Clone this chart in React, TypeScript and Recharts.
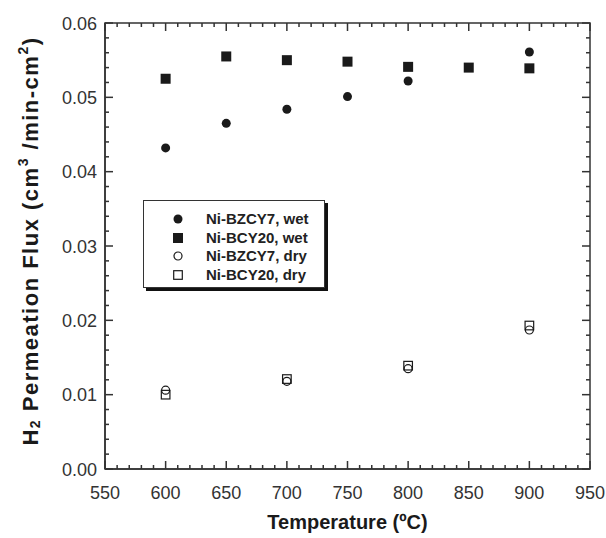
import { ScatterChart, Scatter, XAxis, YAxis, ReferenceArea } from "recharts";

// temperatures (°C) and H2 flux (cm3/min-cm2)
const bzcy7WetTemps = [600, 650, 700, 750, 800, 900];
const bzcy7WetFlux = [0.0432, 0.0465, 0.0484, 0.0501, 0.0522, 0.0561];
const bcy20WetTemps = [600, 650, 700, 750, 800, 850, 900];
const bcy20WetFlux = [0.0525, 0.0555, 0.055, 0.0548, 0.0541, 0.054, 0.0539];
const dryTemps = [600, 700, 800, 900];
const bzcy7DryFlux = [0.0106, 0.0118, 0.0135, 0.0187];
const bcy20DryFlux = [0.01, 0.0121, 0.0139, 0.0193];

const seriesNames = ["Ni-BZCY7, wet", "Ni-BCY20, wet", "Ni-BZCY7, dry", "Ni-BCY20, dry"];
const markerKinds = ["circle", "square", "openCircle", "openSquare"];

const xMajorTicks = [550, 600, 650, 700, 750, 800, 850, 900, 950];
const yMajorTicks = [0, 0.01, 0.02, 0.03, 0.04, 0.05, 0.06];

const FONT = '"Liberation Sans", Arial, Helvetica, sans-serif';
const INK = "#1a1a1a";
const FRAME = "#333";
const X_MIN = 550;
const X_MAX = 950;
const Y_MIN = 0;
const Y_MAX = 0.06;

const zip = (xs: number[], ys: number[]) => xs.map((t, i) => ({ t, flux: ys[i] }));

const seriesData = [
  zip(bzcy7WetTemps, bzcy7WetFlux),
  zip(bcy20WetTemps, bcy20WetFlux),
  zip(dryTemps, bzcy7DryFlux),
  zip(dryTemps, bcy20DryFlux),
];

// minor ticks between each pair of major ticks
const withMinor = (majors: number[], parts: number) => {
  const out: number[] = [];
  majors.forEach((m, i) => {
    out.push(m);
    if (i < majors.length - 1) {
      const step = (majors[i + 1] - m) / parts;
      for (let k = 1; k < parts; k++) out.push(Number((m + k * step).toFixed(5)));
    }
  });
  return out;
};
const xTicks = withMinor(xMajorTicks, 5);
const yTicks = withMinor(yMajorTicks, 5);
const isXMajor = (v: number) => xMajorTicks.includes(v);
const isYMajor = (v: number) => yMajorTicks.some((m) => Math.abs(m - v) < 1e-7);

// tick-mark points sitting on the four edges of the plot box
const bottomTickPts = xTicks.map((t) => ({ t, flux: Y_MIN }));
const topTickPts = xTicks.map((t) => ({ t, flux: Y_MAX }));
const leftTickPts = yTicks.map((flux) => ({ t: X_MIN, flux }));
const rightTickPts = yTicks.map((flux) => ({ t: X_MAX, flux }));

function Marker({ cx, cy, kind }: { cx: number; cy: number; kind: string }) {
  if (kind === "circle") return <circle cx={cx} cy={cy} r={4.5} fill={INK} />;
  if (kind === "square") return <rect x={cx - 5} y={cy - 5} width={10} height={10} fill={INK} />;
  if (kind === "openCircle")
    return <circle cx={cx} cy={cy} r={4} fill="none" stroke={INK} strokeWidth={1.2} />;
  return (
    <rect x={cx - 4.3} y={cy - 4.3} width={8.6} height={8.6} fill="none" stroke={INK} strokeWidth={1.2} />
  );
}

const TW = 1.5;
const tickShape = (side: string) => (p: any) => {
  const cx = Number(p.cx);
  const cy = Number(p.cy);
  if (side === "bottom" || side === "top") {
    const len = isXMajor(p.payload?.t ?? p.t) ? 8 : 4;
    const y = side === "bottom" ? cy - len : cy;
    return <rect x={cx - TW / 2} y={y} width={TW} height={len} fill={FRAME} />;
  }
  const len = isYMajor(p.payload?.flux ?? p.flux) ? 8 : 4;
  const x = side === "left" ? cx : cx - len;
  return <rect x={x} y={cy - TW / 2} width={len} height={TW} fill={FRAME} />;
};

const BottomLabel = ({ x, y, payload }: any) => (
  <text x={x} y={Number(y) + 30} textAnchor="middle" fontSize={18} fontFamily={FONT} fill="#333">
    {payload.value}
  </text>
);

const LeftLabel = ({ x, y, payload }: any) => (
  <text x={Number(x) - 8} y={Number(y) + 6.5} textAnchor="end" fontSize={18} fontFamily={FONT} fill="#333">
    {Number(payload.value).toFixed(2)}
  </text>
);

const XTitle = ({ viewBox }: any) => (
  <text
    x={viewBox.x + viewBox.width / 2}
    y={viewBox.y + viewBox.height - 9}
    textAnchor="middle"
    fontSize={20}
    fontWeight="bold"
    fontFamily={FONT}
    fill={INK}
  >
    Temperature (ºC)
  </text>
);

const YTitle = ({ viewBox }: any) => {
  const cx = viewBox.x + 30;
  const cy = viewBox.y + viewBox.height / 2 - 5;
  return (
    <text
      x={cx}
      y={cy}
      transform={`rotate(-90, ${cx}, ${cy})`}
      textAnchor="middle"
      dominantBaseline="central"
      fontSize={22}
      letterSpacing={1.5}
      fontWeight="bold"
      fontFamily={FONT}
      fill={INK}
    >
      H
      <tspan dy={5} fontSize={14}>2</tspan>
      <tspan dy={-5}> Permeation Flux (cm</tspan>
      <tspan dy={-7} fontSize={14}>3</tspan>
      <tspan dy={7}> /min-cm</tspan>
      <tspan dy={-7} fontSize={14}>2</tspan>
      <tspan dy={7}>)</tspan>
    </text>
  );
};

function LegendBox() {
  return (
    <div
      style={{
        position: "absolute",
        left: 143,
        top: 200,
        width: 182,
        height: 88,
        border: `1.5px solid ${FRAME}`,
        boxShadow: "3px 3px 0 #111",
        background: "#fff",
        fontFamily: FONT,
        fontWeight: "bold",
        fontSize: 15,
        color: "#222",
        paddingTop: 9,
        boxSizing: "border-box",
      }}
    >
      {seriesNames.map((name, i) => (
        <div key={name} style={{ display: "flex", alignItems: "center", height: 18.6 }}>
          <svg width={14} height={14} style={{ marginLeft: 27 }}>
            <Marker cx={7} cy={7} kind={markerKinds[i]} />
          </svg>
          <span style={{ marginLeft: 21, lineHeight: "18px" }}>{name}</span>
        </div>
      ))}
    </div>
  );
}

const PlotFrame = (p: any) => (
  <rect
    x={Number(p.x)}
    y={Number(p.y)}
    width={Number(p.width)}
    height={Number(p.height)}
    fill="none"
    stroke={FRAME}
    strokeWidth={1.5}
  />
);

export default function App() {
  return (
    <div style={{ position: "absolute", left: 0, top: 0, width: 606, height: 538, background: "#fff" }}>
      <ScatterChart width={606} height={538} margin={{ top: 23, right: 16, bottom: 0, left: 0 }}>
        <XAxis
          dataKey="t"
          type="number"
          domain={[X_MIN, X_MAX]}
          ticks={xMajorTicks}
          interval={0}
          tickSize={0}
          tickMargin={0}
          tickLine={false}
          tick={<BottomLabel />}
          height={69}
          axisLine={{ stroke: FRAME, strokeWidth: 1.5 }}
          label={<XTitle />}
        />
        <YAxis
          dataKey="flux"
          type="number"
          domain={[Y_MIN, Y_MAX]}
          ticks={yMajorTicks}
          interval={0}
          tickSize={0}
          tickMargin={0}
          tickLine={false}
          tick={<LeftLabel />}
          width={105}
          axisLine={{ stroke: FRAME, strokeWidth: 1.5 }}
          label={<YTitle />}
        />

        <ReferenceArea x1={X_MIN} x2={X_MAX} y1={Y_MIN} y2={Y_MAX} ifOverflow="visible" shape={PlotFrame} />

        <Scatter data={bottomTickPts} isAnimationActive={false} shape={tickShape("bottom")} />
        <Scatter data={topTickPts} isAnimationActive={false} shape={tickShape("top")} />
        <Scatter data={leftTickPts} isAnimationActive={false} shape={tickShape("left")} />
        <Scatter data={rightTickPts} isAnimationActive={false} shape={tickShape("right")} />

        {seriesData.map((data, i) => (
          <Scatter
            key={seriesNames[i]}
            name={seriesNames[i]}
            data={data}
            isAnimationActive={false}
            shape={(p: any) => <Marker cx={p.cx} cy={p.cy} kind={markerKinds[i]} />}
          />
        ))}
      </ScatterChart>
      <LegendBox />
    </div>
  );
}
